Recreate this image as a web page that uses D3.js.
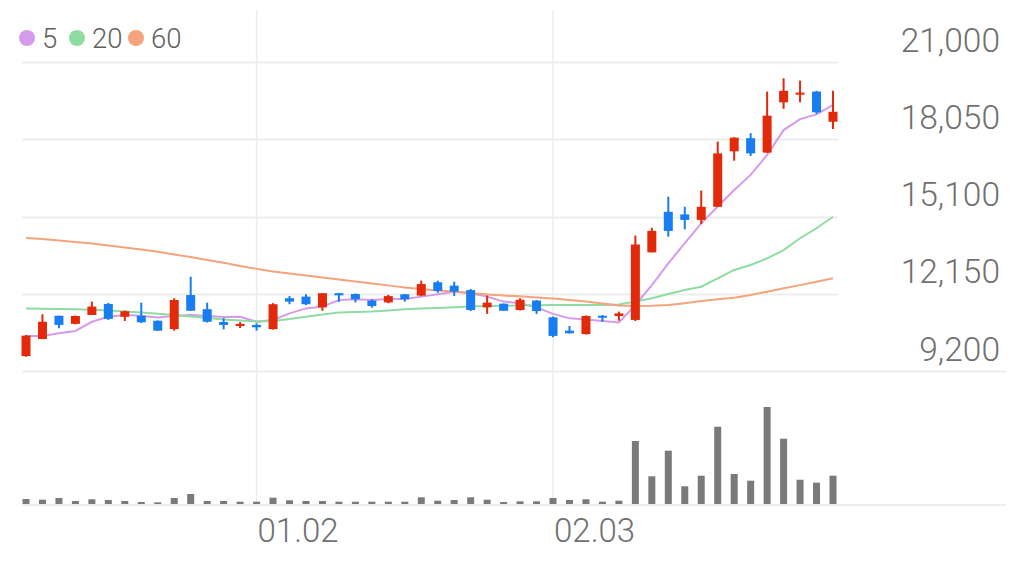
<!DOCTYPE html>
<html><head><meta charset="utf-8">
<script src="https://cdn.jsdelivr.net/npm/d3@7"></script>
<style>
body{margin:0;background:#fff}
svg{display:block}
text{font-family:Roboto,"Noto Sans",sans-serif;font-weight:300}
</style>
</head><body>
<svg id="c" width="1022" height="564"></svg>
<script>
// ---- data ----
const days = d3.range(50); // trading-day index
const xTickIdx = [14, 32];
const xTickLabels = ["01.02", "02.03"];
const yTicks = [9200, 12150, 15100, 18050, 21000];
const maLegend = ["5", "20", "60"];

const open  = [9770,10420,11310,11000,11340,11760,11270,11310,11120,10800,12100,11560,11070,10920,10960,10800,11980,12040,11630,12170,12140,11890,11820,12130,12080,12590,12460,12290,11630,11770,11530,11890,11250,10740,10610,11310,11300,11150,13730,15280,15180,14970,15470,17590,18090,17540,19460,19770,19870,18720];
const close = [10550,11080,10960,11300,11660,11190,11480,11060,10740,11910,11500,11080,10960,11000,10870,11750,11850,11750,12170,12090,11940,11680,12060,11940,12520,12260,12230,11530,11810,11500,11920,11490,10540,10640,11300,11250,11400,14030,14550,14550,14970,15470,17510,18110,17510,18950,19900,19830,19080,19100];
const high  = [10570,11370,11310,11320,11850,11800,11510,11810,11130,11980,12800,11810,11220,11070,11020,11790,12060,12130,12180,12180,12160,11940,12110,12140,12650,12650,12610,12330,12080,11780,11980,11910,11280,10920,11320,11340,11470,14370,14670,15860,15470,16090,17960,18130,18280,19870,20380,20290,19900,19900];
const low   = [9740,10420,10830,10980,11340,11150,11110,11030,10730,10740,11490,11050,10790,10840,10740,10780,11750,11720,11500,11840,11820,11620,11790,11850,12060,12190,12060,11490,11380,11490,11510,11380,10490,10630,10590,11080,11120,11110,13730,14330,14610,14810,15460,17230,17410,17530,19210,19460,19020,18440];
const ma5   = [10540,10540,10640,10730,11080,11270,11340,11310,11240,11300,11340,11300,11260,11270,11080,11150,11400,11590,11660,11910,11940,11910,11950,11950,12040,12130,12230,12170,12040,11850,11790,11630,11380,11210,11170,11110,11050,11720,12480,13310,14080,14840,15480,16110,16690,17450,18400,18820,19000,19360];
const ma20  = [11590,11580,11570,11560,11540,11510,11470,11430,11390,11340,11280,11220,11170,11130,11090,11110,11190,11270,11360,11430,11450,11470,11510,11560,11590,11610,11630,11660,11680,11690,11700,11710,11720,11720,11720,11720,11740,11850,11980,12140,12290,12420,12740,13060,13250,13500,13820,14270,14650,15090];
const ma60  = [14280,14240,14180,14130,14070,13990,13920,13840,13750,13650,13550,13440,13330,13210,13100,13000,12920,12850,12770,12690,12620,12540,12470,12390,12330,12270,12240,12180,12120,12080,12050,12010,11970,11910,11850,11780,11700,11680,11690,11720,11790,11870,11940,12000,12100,12230,12360,12480,12610,12740];
const volume = [50,43,60,30,47,40,30,20,17,60,100,30,30,23,23,63,37,30,30,23,23,23,23,23,67,33,40,67,43,20,27,27,60,40,47,23,33,630,277,533,177,283,773,300,233,970,653,243,213,283];

// ---- styles ----
const UP = "#e2290a", DOWN = "#177df0";
const maColors = ["#d59bea", "#8edca2", "#f5a37c"];
const gridColor = "#ededed";
const textColor = "#707070";

const svg = d3.select("#c");

const x = d3.scalePoint().domain(days).range([26, 833]);
const y = d3.scaleLinear().domain([9200, 21000]).range([371, 62]);
const yv = d3.scaleLinear().domain([0, d3.max(volume)]).range([504, 407]);

// horizontal grid lines (price)
svg.append("g").selectAll("line").data(yTicks).join("line")
  .attr("x1", 22).attr("x2", d => d === yTicks[0] ? 1006 : 838)
  .attr("y1", d => Math.round(y(d)) + 0.5).attr("y2", d => Math.round(y(d)) + 0.5)
  .attr("stroke", gridColor).attr("stroke-width", 2);

// volume baseline
svg.append("line").attr("x1", 22).attr("x2", 1006)
  .attr("y1", yv(0) + 1).attr("y2", yv(0) + 1)
  .attr("stroke", gridColor).attr("stroke-width", 2);

// vertical grid lines
svg.append("g").selectAll("line").data(xTickIdx).join("line")
  .attr("x1", d => x(d)).attr("x2", d => x(d))
  .attr("y1", 10).attr("y2", 504)
  .attr("stroke", gridColor).attr("stroke-width", 1.5);

// y labels
svg.append("g").selectAll("text").data(yTicks).join("text")
  .attr("x", 1000).attr("y", d => y(d) - 10.5)
  .attr("text-anchor", "end")
  .attr("font-size", 33.5).attr("fill", textColor)
  .text(d => d3.format(",")(d));

// x labels
svg.append("g").selectAll("text").data(xTickIdx).join("text")
  .attr("x", d => x(d) + 1).attr("y", 542)
  .attr("font-size", 33).attr("fill", textColor)
  .text((d, i) => xTickLabels[i]);

// volume bars
svg.append("g").selectAll("rect").data(days).join("rect")
  .attr("x", i => x(i) - 3.5).attr("width", 7)
  .attr("y", i => yv(volume[i])).attr("height", i => yv(0) - yv(volume[i]))
  .attr("fill", "#7a7a7a");

// moving averages
const line = d3.line().x((d, i) => x(i)).y(d => y(d)).curve(d3.curveLinear);
[ma5, ma20, ma60].forEach((arr, k) => {
  svg.append("path").datum(arr).attr("d", line)
    .attr("fill", "none").attr("stroke", maColors[k]).attr("stroke-width", 2);
});

// candles
const cg = svg.append("g");
days.forEach(i => {
  const col = close[i] >= open[i] ? UP : DOWN;
  cg.append("line")
    .attr("x1", x(i)).attr("x2", x(i))
    .attr("y1", y(high[i])).attr("y2", y(low[i]))
    .attr("stroke", col).attr("stroke-width", 2);
  const top = y(Math.max(open[i], close[i]));
  const h = Math.max(2, Math.abs(y(open[i]) - y(close[i])));
  cg.append("rect")
    .attr("x", x(i) - 4.5).attr("width", 9)
    .attr("y", top).attr("height", h)
    .attr("fill", col);
});

// legend
const lg = svg.append("g");
const legX = [27, 77, 136];
maLegend.forEach((t, k) => {
  lg.append("circle").attr("cx", legX[k]).attr("cy", 38).attr("r", 8).attr("fill", maColors[k]);
  lg.append("text").attr("x", legX[k] + 15).attr("y", 47.5)
    .attr("font-size", 27.5).attr("fill", "#606060").text(t);
});
</script>
</body></html>
